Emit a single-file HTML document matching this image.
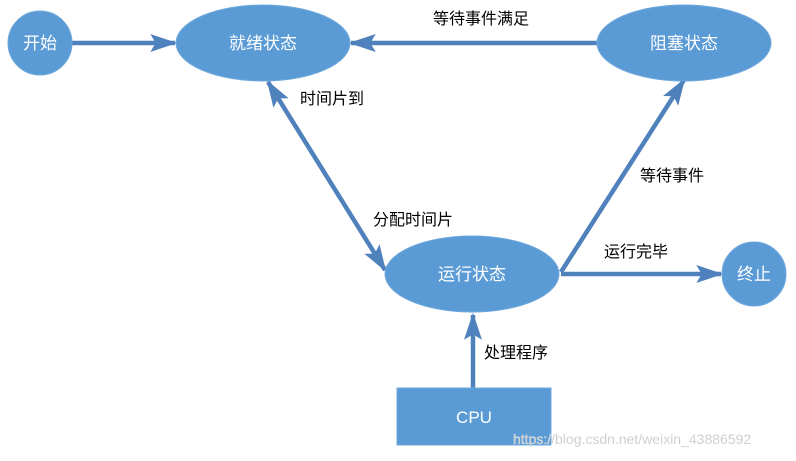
<!DOCTYPE html>
<html><head><meta charset="utf-8"><style>
body{margin:0;background:#fff;}
svg text{font-family:"Liberation Sans","Noto Sans CJK SC",sans-serif;}
</style></head><body>
<svg width="796" height="456" viewBox="0 0 796 456">
<defs>
<marker id="a" markerWidth="6" markerHeight="4" refX="5.5" refY="2" orient="auto" markerUnits="strokeWidth">
<path d="M0,0 L6,2 L0,4 L1.2,2 Z" fill="#4f81bd"/></marker>
<marker id="b" markerWidth="6" markerHeight="4" refX="0.5" refY="2" orient="auto" markerUnits="strokeWidth">
<path d="M6,0 L0,2 L6,4 L4.8,2 Z" fill="#4f81bd"/></marker>
</defs>
<g stroke="#4f81bd" stroke-width="4.5" fill="none">
<line x1="72" y1="43" x2="175" y2="43" marker-end="url(#a)"/>
<line x1="597" y1="43" x2="351" y2="43" marker-end="url(#a)"/>
<line x1="268" y1="82" x2="385" y2="270" marker-start="url(#b)" marker-end="url(#a)"/>
<line x1="561" y1="272" x2="684" y2="80" marker-end="url(#a)"/>
<line x1="561" y1="274" x2="721" y2="274" marker-end="url(#a)"/>
<line x1="473" y1="388" x2="473" y2="315" marker-end="url(#a)"/>
</g>
<g fill="#5b9bd5" stroke="#6fa8dc" stroke-width="1">
<circle cx="40" cy="43" r="32"/>
<ellipse cx="263" cy="43" rx="87" ry="38"/>
<ellipse cx="684" cy="43" rx="87" ry="38"/>
<ellipse cx="472" cy="274" rx="87" ry="38"/>
<circle cx="754" cy="274" r="32"/>
<rect x="397" y="388" width="154" height="57"/>
</g>
<g fill="#fff" font-size="17" text-anchor="middle">
<text x="40" y="49">开始</text>
<text x="263" y="49">就绪状态</text>
<text x="684" y="49">阻塞状态</text>
<text x="472" y="280">运行状态</text>
<text x="754" y="280">终止</text>
<text x="474" y="423">CPU</text>
</g>
<g fill="#000" font-size="16">
<text x="433" y="24">等待事件满足</text>
<text x="300" y="104">时间片到</text>
<text x="640" y="181">等待事件</text>
<text x="373" y="225">分配时间片</text>
<text x="604" y="257">运行完毕</text>
<text x="484" y="358">处理程序</text>
</g>
<text x="513" y="444" font-size="14" fill="#c8c8c8" stroke="#eee" stroke-width="0.3">https://blog.csdn.net/weixin_43886592</text>
</svg>
</body></html>
